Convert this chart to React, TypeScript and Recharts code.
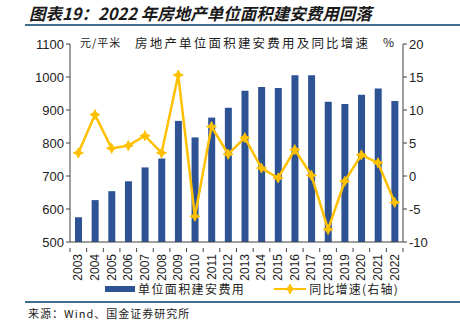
import { ComposedChart, Bar, Line, XAxis, YAxis, Legend } from "recharts";

const years = [
  "2003", "2004", "2005", "2006", "2007", "2008", "2009", "2010", "2011", "2012",
  "2013", "2014", "2015", "2016", "2017", "2018", "2019", "2020", "2021", "2022",
];
const costPerSqm = [
  575, 627, 654, 684, 726, 753, 867, 817, 877, 907,
  958, 970, 967, 1005, 1005, 925, 918, 946, 965, 927,
];
const yoyGrowth = [
  3.5, 9.3, 4.2, 4.6, 6.1, 3.5, 15.3, -6.1, 7.5, 3.3,
  5.8, 1.2, -0.3, 4.0, 0.1, -8.1, -0.8, 3.2, 2.0, -4.0,
];
const leftTicks = [500, 600, 700, 800, 900, 1000, 1100];
const rightTicks = [-10, -5, 0, 5, 10, 15, 20];

const data = years.map((year, i) => ({
  year,
  cost: costPerSqm[i],
  yoy: yoyGrowth[i],
}));

const BLUE = "#2E5395";
const GOLD = "#FFC000";
const AXIS = "#404040";
const CJK = '"Noto Sans CJK SC", "Noto Sans", sans-serif';

const Star = (props: any) => {
  const { cx, cy } = props;
  if (cx == null || cy == null) return null;
  const r = 5;
  const k = 1.6;
  const d = `M${cx},${cy - r} L${cx + k},${cy - k} L${cx + r},${cy} L${cx + k},${cy + k} L${cx},${cy + r} L${cx - k},${cy + k} L${cx - r},${cy} L${cx - k},${cy - k} Z`;
  return <path d={d} fill={GOLD} stroke={GOLD} strokeWidth={1} />;
};

const YearTick = (props: any) => {
  const { x, y, payload } = props;
  const half = 333 / years.length / 2;
  return (
    <g>
      <line x1={x + half} y1={y - 2} x2={x + half} y2={y + 2} stroke={AXIS} />
      {payload.index === 0 && (
        <line x1={x - half} y1={y - 2} x2={x - half} y2={y + 2} stroke={AXIS} />
      )}
      <text
        x={x}
        y={y + 4}
        transform={`rotate(-90 ${x} ${y + 4})`}
        textAnchor="end"
        dominantBaseline="central"
        fontSize={12}
        fill="#222"
        fontFamily="Arial, 'Liberation Sans', sans-serif"
      >
        {payload.value}
      </text>
    </g>
  );
};

const LegendContent = () => (
  <div
    style={{
      display: "flex",
      fontFamily: CJK,
      fontSize: 12,
      color: "#222",
      paddingLeft: 105,
    }}
  >
    <span style={{ display: "flex", alignItems: "center", letterSpacing: 1.4 }}>
      <span style={{ width: 30, height: 6, background: BLUE, marginRight: 3 }} />
      单位面积建安费用
    </span>
    <span style={{ display: "flex", alignItems: "center", marginLeft: 29, letterSpacing: 1.2 }}>
      <svg width={32} height={10} style={{ marginRight: 3 }}>
        <line x1={0} y1={5} x2={32} y2={5} stroke={GOLD} strokeWidth={2} />
        <Star cx={16} cy={5} />
      </svg>
      同比增速(右轴)
    </span>
  </div>
);

export default function App() {
  return (
    <div
      style={{
        position: "absolute",
        left: 0,
        top: 0,
        width: 460,
        height: 323,
        background: "#fff",
        overflow: "hidden",
      }}
    >
      <div
        style={{
          position: "absolute",
          left: 29,
          top: 1,
          fontFamily: CJK,
          fontSize: 16.5,
          fontWeight: 700,
          fontStyle: "italic",
          color: "#1a1a1a",
          whiteSpace: "nowrap",
        }}
      >
        图表19：2022 年房地产单位面积建安费用回落
      </div>
      <div style={{ position: "absolute", left: 25, right: 0, top: 24, height: 2, background: "#3F6E8F" }} />

      <ComposedChart
        width={460}
        height={323}
        data={data}
        margin={{ top: 44, right: 0, bottom: 29, left: 10 }}
        style={{ position: "absolute", left: 0, top: 0 }}
      >
        <XAxis
          dataKey="year"
          axisLine={{ stroke: AXIS }}
          tickLine={false}
          tick={<YearTick />}
          interval={0}
          height={35}
        />
        <YAxis
          yAxisId="left"
          domain={[500, 1100]}
          ticks={leftTicks}
          width={60}
          axisLine={{ stroke: AXIS }}
          tickLine={{ stroke: AXIS }}
          tickSize={4}
          tick={{ fontSize: 13, fill: "#222", fontFamily: "Arial, 'Liberation Sans', sans-serif" }}
        />
        <YAxis
          yAxisId="right"
          orientation="right"
          domain={[-10, 20]}
          ticks={rightTicks}
          width={57}
          axisLine={{ stroke: AXIS }}
          tickLine={{ stroke: AXIS }}
          tickSize={4}
          tick={{ fontSize: 13, fill: "#222", fontFamily: "Arial, 'Liberation Sans', sans-serif" }}
        />
        <Legend
          content={<LegendContent />}
          verticalAlign="bottom"
          wrapperStyle={{ top: 280, left: 0, width: 460 }}
        />
        <Bar
          yAxisId="left"
          dataKey="cost"
          name="单位面积建安费用"
          fill={BLUE}
          barSize={7}
          isAnimationActive={false}
        />
        <Line
          yAxisId="right"
          dataKey="yoy"
          name="同比增速(右轴)"
          stroke={GOLD}
          strokeWidth={2.5}
          dot={<Star />}
          activeDot={false}
          isAnimationActive={false}
        />
      </ComposedChart>

      <div style={{ position: "absolute", left: 80, top: 34, fontFamily: CJK, fontSize: 11, color: "#222", letterSpacing: 1 }}>
        元/平米
      </div>
      <div style={{ position: "absolute", left: 135, top: 33, fontFamily: CJK, fontSize: 12.5, color: "#222", letterSpacing: 2.2 }}>
        房地产单位面积建安费用及同比增速
      </div>
      <div style={{ position: "absolute", left: 383, top: 33, fontFamily: CJK, fontSize: 12, color: "#222" }}>
        %
      </div>

      <div style={{ position: "absolute", left: 25, right: 0, top: 301, height: 2, background: "#3F6E8F" }} />
      <div style={{ position: "absolute", left: 28, top: 305, fontFamily: CJK, fontSize: 11, color: "#222", letterSpacing: 1 }}>
        来源：Wind、国金证券研究所
      </div>
    </div>
  );
}
